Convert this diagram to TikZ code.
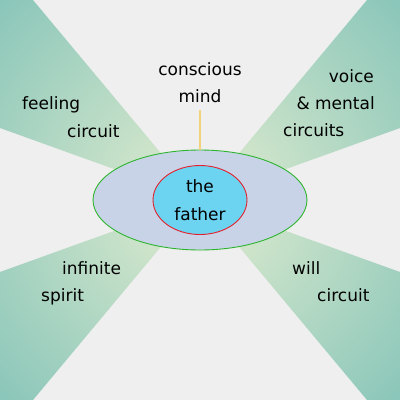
\documentclass[tikz,border=0pt]{standalone}
\usepackage{fontspec}
\setmainfont{DejaVu Sans}
\usepackage{xcolor}
\usepackage{tikz}
\usetikzlibrary{positioning, shapes.geometric}
\definecolor{fzBg}{HTML}{EFEFEF}
\definecolor{fzWedgeIn}{HTML}{E2EDCF}
\definecolor{fzWedgeOut}{HTML}{8AC6BA}
\definecolor{fzOuter}{HTML}{C8D3E8}
\definecolor{fzGreen}{HTML}{2DB52D}
\definecolor{fzInner}{HTML}{6CD3F1}
\definecolor{fzRed}{HTML}{E5202C}
\definecolor{fzStem}{HTML}{F2D27A}
\tikzset{
  ring/.style={
    ellipse, draw=#1, line width=0.9bp,
    inner sep=0pt
  },
  wordline/.style={
    anchor=base, inner sep=0pt,
    font=\fontsize{17bp}{27bp}\selectfont
  },
  stem/.style={fzStem, line width=1.6bp}
}

\begin{document}
\begin{tikzpicture}[x=1bp, y=-1bp]
      % Background
      \fill[fzBg] (0,0) rectangle (400,400);
      \useasboundingbox (0,0) rectangle (400,400);
      % Circuit wedges
      \begin{scope}
        \clip (200,200) -- (33,0) -- (0,0) -- (0,128) -- cycle
              (200,200) -- (367,0) -- (400,0) -- (400,128) -- cycle
              (200,200) -- (0,272) -- (0,400) -- (33,400) -- cycle
              (200,200) -- (400,272) -- (400,400) -- (367,400) -- cycle;
        \shade[inner color=fzWedgeIn, outer color=fzWedgeOut] (200,200) circle (283bp);
      \end{scope}
      % Center
      \node[ring=fzGreen, fill=fzOuter, minimum width=214bp, minimum height=100bp] (outer) at (200,200) {};
      \node[ring=fzRed, fill=fzInner, minimum width=94bp, minimum height=69bp] (inner) at (200,200) {};
      \node[wordline] (the) at (200,192) {the};
      \node[wordline] (father) at (200,220) {father};
      % Conscious mind
      \node[wordline] (conscious) at (200,75) {conscious};
      \node[wordline] (mind) at (200,102) {mind};
      \coordinate (stemtop) at (200,110);
      \draw[stem] (outer.north) -- (stemtop);
      % Feeling circuit
      \node[wordline, anchor=base west] (feeling) at (22,109) {feeling};
      \node[wordline, anchor=base west] (feelcirc) at (67,137) {circuit};
      % Voice & mental circuits
      \node[wordline, anchor=base east] (voice) at (374,82) {voice};
      \node[wordline, anchor=base east] (mental) at (375,109) {\& mental};
      \node[wordline, anchor=base west] (vcirc) at (283,136) {circuits};
      % Infinite spirit
      \node[wordline, anchor=base west] (infinite) at (62,274) {infinite};
      \node[wordline, anchor=base west] (spirit) at (41,301) {spirit};
      % Will circuit
      \node[wordline, anchor=base west] (will) at (292,274) {will};
      \node[wordline, anchor=base west] (willcirc) at (317,301) {circuit};
    \end{tikzpicture}
\end{document}
